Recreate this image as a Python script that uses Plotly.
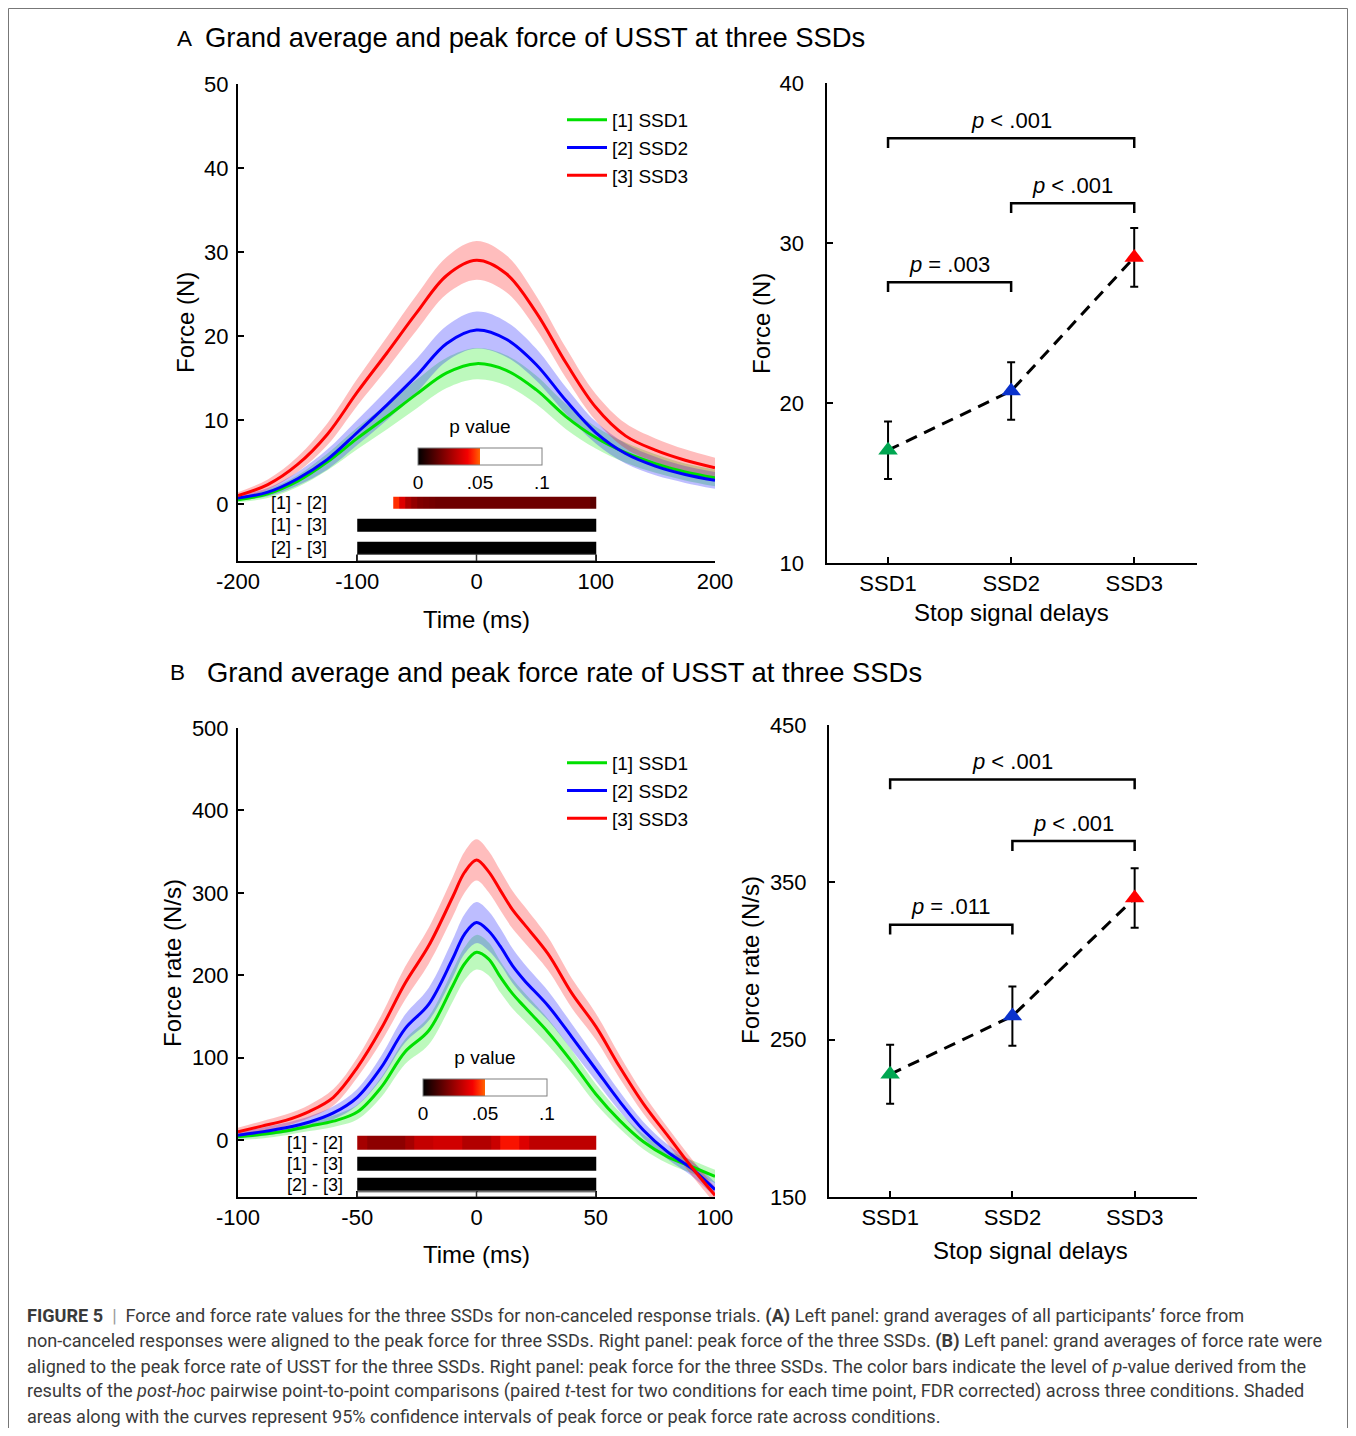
import plotly.graph_objects as go

OFF = 8  # page body margin offset of the plot in the browser window
W, H = 1356 - 2 * OFF, 1436 - 2 * OFF
FONT = "Liberation Sans, Arial, sans-serif"

# ---------------- Panel A: force time courses ----------------
time_A = [-200, -175, -150, -125, -100, -75, -50, -25, 0, 25, 50, 75, 100, 125, 150, 175, 200]
force_ssd1 = [0.5, 1.2, 2.7, 5.0, 7.8, 10.4, 13.1, 15.6, 16.7, 15.9, 13.6, 10.4, 7.9, 6.1, 4.8, 3.8, 3.1]
force_ssd2 = [0.7, 1.4, 3.0, 5.3, 8.5, 11.8, 15.3, 19.1, 20.7, 19.6, 16.6, 12.3, 8.5, 6.0, 4.5, 3.5, 2.8]
force_ssd3 = [1.0, 2.3, 4.7, 8.3, 13.3, 18.0, 22.8, 27.2, 29.0, 27.4, 22.8, 16.8, 11.5, 8.1, 6.4, 5.2, 4.3]
ci_force_ssd1 = [0.3, 0.5, 0.7, 1.0, 1.3, 1.5, 1.7, 1.8, 1.85, 1.8, 1.7, 1.5, 1.3, 1.2, 1.1, 1.0, 1.0]
ci_force_ssd2 = [0.3, 0.5, 0.8, 1.2, 1.5, 1.8, 2.0, 2.1, 2.2, 2.1, 1.9, 1.6, 1.3, 1.2, 1.1, 1.0, 1.0]
ci_force_ssd3 = [0.4, 0.6, 0.9, 1.3, 1.6, 1.9, 2.1, 2.2, 2.3, 2.2, 2.0, 1.8, 1.6, 1.5, 1.4, 1.3, 1.2]

# ---------------- Panel B: force-rate time courses ----------------
time_B = [-100, -90, -80, -70, -60, -50, -40, -30, -20, -10, -5, 0, 5, 10, 15, 20, 30, 40, 50, 60, 70, 80, 90, 100]
rate_ssd1 = [4, 7, 11, 17, 23, 34, 64, 107, 133, 187, 214, 228, 220, 198, 178, 162, 131, 95, 56, 24, -2, -20, -32, -44]
rate_ssd2 = [6, 10, 15, 22, 33, 52, 88, 135, 165, 220, 250, 264, 254, 235, 212, 194, 163, 125, 86, 47, 12, -14, -34, -60]
rate_ssd3 = [10, 17, 24, 35, 52, 88, 135, 190, 236, 295, 325, 340, 326, 303, 280, 262, 226, 178, 138, 89, 44, 6, -32, -67]
ci_rate_ssd1 = [4, 5, 5, 6, 7, 9, 12, 15, 17, 19, 20, 21, 20, 19, 18, 17, 16, 14, 12, 10, 9, 8, 8, 8]
ci_rate_ssd2 = [4, 5, 6, 7, 8, 10, 14, 17, 20, 23, 24, 25, 24, 22, 21, 20, 18, 16, 14, 12, 10, 9, 9, 9]
ci_rate_ssd3 = [5, 6, 7, 8, 10, 12, 16, 20, 22, 24, 25, 25, 25, 24, 23, 22, 20, 18, 16, 14, 12, 10, 10, 10]

# ---------------- p-value bars (point-to-point comparisons) ----------------
row_labels = ["[1] - [2]", "[1] - [3]", "[2] - [3]"]
pbin_edges_A = [-100, -95, -90, -85, -80, -75, -70, -65, -60, -55, -50, -45, -40, -35, -30, -25, -20, -15, -10, -5,
                0, 5, 10, 15, 20, 25, 30, 35, 40, 45, 50, 55, 60, 65, 70, 75, 80, 85, 90, 95, 100]
p_A_12 = [None, None, None, None, None, None,
          0.045, 0.036, 0.028, 0.024, 0.021, 0.020, 0.019,
          0.018, 0.018, 0.018, 0.018, 0.018, 0.018, 0.018, 0.018, 0.018, 0.018, 0.018, 0.018, 0.018,
          0.018, 0.018, 0.018, 0.018, 0.018, 0.018, 0.018, 0.018, 0.018, 0.018, 0.018, 0.018, 0.018, 0.015]
p_A_13 = [0.0] * 40
p_A_23 = [0.0] * 40

pbin_edges_B = [-50, -46, -42, -38, -34, -30, -26, -22, -18, -14, -10, -6, -2, 2, 6, 10, 14, 18, 22, 26, 30, 34, 38, 42, 46, 50]
p_B_12 = [0.027, 0.023, 0.023, 0.023, 0.023, 0.027, 0.032, 0.032, 0.034, 0.034, 0.034, 0.029, 0.029,
          0.029, 0.033, 0.042, 0.042, 0.036, 0.031, 0.031, 0.031, 0.031, 0.031, 0.031, 0.031]
p_B_13 = [0.0] * 25
p_B_23 = [0.0] * 25

# ---------------- peaks (right panels) ----------------
ssd_labels = ["SSD1", "SSD2", "SSD3"]
peak_force = [17.05, 20.75, 29.1]
peak_force_err = [1.8, 1.8, 1.83]
peak_rate = [228, 265, 340]
peak_rate_err = [18.8, 18.8, 18.9]
pairs = [(1, 3), (2, 3), (1, 2)]
p_text_A = ["<i>p</i> < .001", "<i>p</i> < .001", "<i>p</i> = .003"]
p_text_B = ["<i>p</i> < .001", "<i>p</i> < .001", "<i>p</i> = .011"]
bracket_A = [36.54, 32.48, 27.54]
bracket_B = [415.4, 376.2, 323.1]

# tick labels (hyphen minus as in the original)
ticks_A = [-200, -100, 0, 100, 200]
ticks_B = [-100, -50, 0, 50, 100]

# ---------------- styles ----------------
line_cols = ["#00e000", "#0000ff", "#ff0000"]
band_cols = ["rgba(0,230,0,0.26)", "rgba(0,0,255,0.26)", "rgba(255,0,0,0.26)"]
marker_cols = ["#00a651", "#0a32cc", "#ff0000"]
names = ["[1] SSD1", "[2] SSD2", "[3] SSD3"]
p_cscale = [[0.0, "#000000"], [0.1, "#3c0000"], [0.2, "#7a0000"], [0.3, "#b80000"], [0.4, "#f50000"],
            [0.45, "#ff2d00"], [0.5, "#ff6400"], [0.5001, "#ffffff"], [1.0, "#ffffff"]]


def px_x(p):
    return (p - OFF) / W


def px_y(p):
    return 1 - (p - OFF) / H


fig = go.Figure()


def add_timecourse(t, series, cis, xa, ya, legend):
    for s, c, col in zip(series, cis, band_cols):
        up = [v + e for v, e in zip(s, c)]
        lo = [v - e for v, e in zip(s, c)]
        fig.add_trace(go.Scatter(x=t, y=up, mode="lines", line=dict(width=0, shape="spline", color=col),
                                 showlegend=False, hoverinfo="skip", xaxis=xa, yaxis=ya))
        fig.add_trace(go.Scatter(x=t, y=lo, mode="lines", line=dict(width=0, shape="spline", color=col),
                                 fill="tonexty", fillcolor=col, showlegend=False, hoverinfo="skip",
                                 xaxis=xa, yaxis=ya))
    for i, (s, col, nm) in enumerate(zip(series, line_cols, names)):
        fig.add_trace(go.Scatter(x=t, y=s, mode="lines", name=nm, line=dict(color=col, width=3, shape="spline"),
                                 xaxis=xa, yaxis=ya, legend=legend, legendgroup=legend + str(i)))


add_timecourse(time_A, [force_ssd1, force_ssd2, force_ssd3], [ci_force_ssd1, ci_force_ssd2, ci_force_ssd3],
               "x", "y", "legend")
add_timecourse(time_B, [rate_ssd1, rate_ssd2, rate_ssd3], [ci_rate_ssd1, ci_rate_ssd2, ci_rate_ssd3],
               "x3", "y3", "legend2")

# p-value heatmap rows
rows_y_A = [0.12, -2.54, -5.28]
rows_y_B = [-3.6, -28.8, -54.0]


def cbar(cx, top_px):
    return dict(orientation="h", x=px_x(cx), xanchor="center", y=px_y(top_px), yanchor="top",
                len=124, lenmode="pixels", thickness=17, thicknessmode="pixels",
                outlinewidth=1, outlinecolor="#808080", xpad=0, ypad=0,
                tickvals=[0, 0.05, 0.1], ticktext=["0", ".05", ".1"], ticks="",
                tickfont=dict(size=19, family=FONT, color="black"),
                title=dict(text="p value", side="top", font=dict(size=19, family=FONT, color="black")))


fig.add_trace(go.Heatmap(x=pbin_edges_A, y=rows_y_A, z=[p_A_12, p_A_13, p_A_23], colorscale=p_cscale,
                         zmin=0, zmax=0.1, ygap=10, xaxis="x", yaxis="y", hoverinfo="skip",
                         colorbar=cbar(480, 427)))
fig.add_trace(go.Heatmap(x=pbin_edges_B, y=rows_y_B, z=[p_B_12, p_B_13, p_B_23], colorscale=p_cscale,
                         zmin=0, zmax=0.1, ygap=7, xaxis="x3", yaxis="y3", hoverinfo="skip",
                         colorbar=cbar(485, 1058)))


# peak panels
def add_peaks(vals, errs, xa, ya, brackets, texts, drop, lab_off):
    xs = [1, 2, 3]
    fig.add_trace(go.Scatter(x=xs, y=vals, mode="lines", line=dict(color="black", width=3, dash="12px,8px"),
                             showlegend=False, xaxis=xa, yaxis=ya, hoverinfo="skip"))
    fig.add_trace(go.Scatter(x=xs, y=vals, mode="markers", showlegend=False, xaxis=xa, yaxis=ya,
                             marker=dict(symbol="triangle-up", size=17, color=marker_cols, line=dict(width=0)),
                             error_y=dict(type="data", array=errs, visible=True, color="black",
                                          thickness=2, width=4)))
    for (a, b), yb, txt in zip(pairs, brackets, texts):
        fig.add_trace(go.Scatter(x=[a, a, b, b], y=[yb - drop, yb, yb, yb - drop], mode="lines",
                                 line=dict(color="black", width=2.5), showlegend=False,
                                 xaxis=xa, yaxis=ya, hoverinfo="skip"))
        fig.add_annotation(x=(a + b) / 2, y=yb + lab_off, xref=xa, yref=ya, text=txt, showarrow=False,
                           xanchor="center", yanchor="middle",
                           font=dict(size=22, family=FONT, color="black"))


add_peaks(peak_force, peak_force_err, "x2", "y2", bracket_A, p_text_A, 0.6, 1.12)
add_peaks(peak_rate, peak_rate_err, "x4", "y4", bracket_B, p_text_B, 6.3, 11.5)

axis_style = dict(showline=True, linewidth=2, linecolor="black", ticks="inside", ticklen=6, tickwidth=2,
                  tickcolor="black", showgrid=False, zeroline=False, mirror=False, automargin=False,
                  tickfont=dict(size=22, family=FONT, color="black"))

fig.update_layout(
    width=W, height=H, margin=dict(l=0, r=0, t=0, b=0, autoexpand=False),
    paper_bgcolor="white", plot_bgcolor="rgba(0,0,0,0)",
    font=dict(family=FONT, color="black"),
    xaxis=dict(domain=[px_x(238), px_x(715)], range=[-200, 200], tickvals=ticks_A,
               ticktext=[str(v) for v in ticks_A], anchor="y", **axis_style),
    yaxis=dict(domain=[px_y(561), px_y(84)], range=[-6.8, 50], tickvals=[0, 10, 20, 30, 40, 50],
               anchor="x", ticklabelstandoff=3, **axis_style),
    xaxis2=dict(domain=[px_x(826.5), px_x(1197)], range=[0.5, 3.51], tickvals=[1, 2, 3, 3.51],
                ticktext=ssd_labels + [""], anchor="y2", **axis_style),
    yaxis2=dict(domain=[px_y(563), px_y(83)], range=[10, 40], tickvals=[10, 20, 30, 40], anchor="x2",
                ticklabelstandoff=16, **axis_style),
    xaxis3=dict(domain=[px_x(238), px_x(715)], range=[-100, 100], tickvals=ticks_B,
                ticktext=[str(v) for v in ticks_B], anchor="y3", **axis_style),
    yaxis3=dict(domain=[px_y(1197), px_y(728)], range=[-69, 500], tickvals=[0, 100, 200, 300, 400, 500],
                anchor="x3", ticklabelstandoff=3, **axis_style),
    xaxis4=dict(domain=[px_x(829), px_x(1197)], range=[0.5, 3.51], tickvals=[1, 2, 3, 3.51],
                ticktext=ssd_labels + [""], anchor="y4", **axis_style),
    yaxis4=dict(domain=[px_y(1197), px_y(725)], range=[150, 450], tickvals=[150, 250, 350, 450], anchor="x4",
                ticklabelstandoff=16, **axis_style),
    legend=dict(x=px_x(562), y=px_y(101), xanchor="left", yanchor="top", bgcolor="rgba(0,0,0,0)",
                font=dict(size=19, family=FONT, color="black"), tracegroupgap=0, itemwidth=40),
    legend2=dict(x=px_x(562), y=px_y(744), xanchor="left", yanchor="top", bgcolor="rgba(0,0,0,0)",
                 font=dict(size=19, family=FONT, color="black"), tracegroupgap=0, itemwidth=40),
)

# strips under the p-value bars (inset axes)
for xa, ya, x0, x1, y0, y1 in [("x", "y", -100, 100, -6.8, -5.99), ("x3", "y3", -50, 50, -69, -62.7)]:
    fig.add_shape(type="rect", xref=xa, yref=ya, x0=x0, x1=x1, y0=y0, y1=y1,
                  line=dict(color="#333333", width=1), fillcolor="white")
    for xv in (x0, (x0 + x1) / 2, x1):
        fig.add_shape(type="line", xref=xa, yref=ya, x0=xv, x1=xv, y0=y0, y1=y1,
                      line=dict(color="#333333", width=1.5))

# row labels for bars
for lab, yv in zip(row_labels, rows_y_A):
    fig.add_annotation(x=-124, y=yv, xref="x", yref="y", text=lab, showarrow=False, xanchor="right",
                       yanchor="middle", font=dict(size=18, family=FONT, color="black"))
for lab, yv in zip(row_labels, rows_y_B):
    fig.add_annotation(x=-55, y=yv, xref="x3", yref="y3", text=lab, showarrow=False, xanchor="right",
                       yanchor="middle", font=dict(size=18, family=FONT, color="black"))


def ann(text, x, y, size, xanchor="center", **kw):
    fig.add_annotation(text=text, x=px_x(x), y=px_y(y), xref="paper", yref="paper", showarrow=False,
                       xanchor=xanchor, yanchor="middle",
                       font=dict(size=size, family=FONT, color="black"), **kw)


# axis titles
ann("Force (N)", 185, 323, 24, textangle=-90)
ann("Time (ms)", 476, 619, 24)
ann("Force (N)", 761, 323, 24, textangle=-90)
ann("Stop signal delays", 1011, 612, 24)
ann("Force rate (N/s)", 172, 963, 24, textangle=-90)
ann("Time (ms)", 476, 1254, 24)
ann("Force rate (N/s)", 750, 960, 24, textangle=-90)
ann("Stop signal delays", 1030, 1250, 24)

# panel titles
ann("A", 184, 39, 22.5)
ann("Grand average and peak force of USST at three SSDs", 203, 38, 27.4, xanchor="left")
ann("B", 177, 672, 22.5)
ann("Grand average and peak force rate of USST at three SSDs", 205, 672, 27.4, xanchor="left")

# caption
CAP = "Roboto, Liberation Sans, sans-serif"
caption = [
    "<b>FIGURE 5</b>  <span style='color:#999'>|</span>  Force and force rate values for the three SSDs for non-canceled response trials. <b>(A)</b> Left panel: grand averages of all participants\u2019 force from",
    "non-canceled responses were aligned to the peak force for three SSDs. Right panel: peak force of the three SSDs. <b>(B)</b> Left panel: grand averages of force rate were",
    "aligned to the peak force rate of USST for the three SSDs. Right panel: peak force for the three SSDs. The color bars indicate the level of <i>p</i>-value derived from the",
    "results of the <i>post-hoc</i> pairwise point-to-point comparisons (paired <i>t</i>-test for two conditions for each time point, FDR corrected) across three conditions. Shaded",
    "areas along with the curves represent 95% confidence intervals of peak force or peak force rate across conditions.",
]
for i, line in enumerate(caption):
    fig.add_annotation(text=line, x=px_x(25), y=px_y(1316 + 25 * i), xref="paper", yref="paper",
                       showarrow=False, xanchor="left", yanchor="middle",
                       font=dict(size=18.1, family=CAP, color="#3a3a3a"))

# outer frame
fig.add_shape(type="rect", xref="paper", yref="paper", x0=px_x(8.5), x1=px_x(1347.5), y0=px_y(1440),
              y1=px_y(8.5), line=dict(color="#777777", width=1), layer="below")

fig.write_html("out.html")
